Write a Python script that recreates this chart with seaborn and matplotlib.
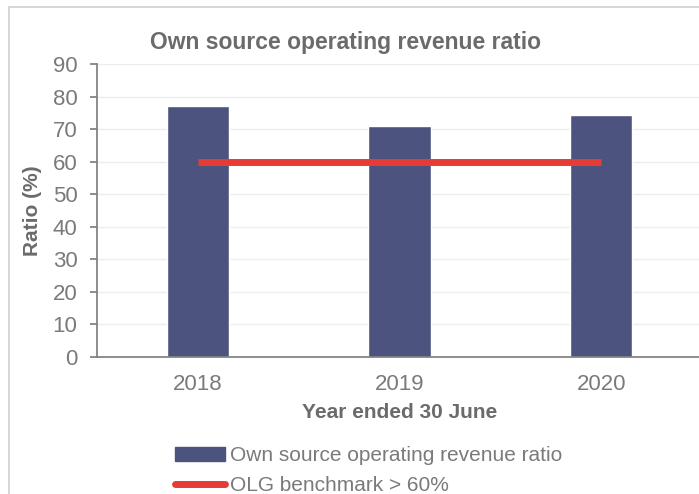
import matplotlib
matplotlib.use("Agg")
import matplotlib.pyplot as plt
import seaborn as sns
import pandas as pd
from matplotlib.patches import Rectangle
from matplotlib.lines import Line2D

years = ["2018", "2019", "2020"]
ratio = [77.0, 71.0, 74.2]
benchmark = [60, 60, 60]

barColor = "#4d537f"
lineColor = "#e53d35"
textColor = "#7a7a7a"
labelColor = "#6b6b6b"

sns.set_theme(style="white")
plt.rcParams["font.family"] = ["Liberation Sans", "DejaVu Sans"]

df = pd.DataFrame({"year": years, "ratio": ratio})

fig = plt.figure(figsize=(6.99, 4.94), dpi=100)
ax = fig.add_axes([97 / 699, 1 - 357 / 494, 605 / 699, 293 / 494])

sns.barplot(data=df, x="year", y="ratio", color=barColor, width=0.31,
            saturation=1, ax=ax, zorder=2)
ax.plot(range(len(years)), benchmark, color=lineColor, lw=5, zorder=3,
        solid_capstyle="butt")

ax.set_xlim(-0.5, 2.5)
ax.set_ylim(0, 90)
ax.set_yticks(range(0, 91, 10))
ax.yaxis.grid(True, color="#ededed", lw=1, zorder=0)
ax.set_axisbelow(True)
for s in ["top", "right"]:
    ax.spines[s].set_visible(False)
for s in ["left", "bottom"]:
    ax.spines[s].set_color("#808080")
ax.set_xticks([-0.5, 0.5, 1.5, 2.5], minor=True)
ax.tick_params(axis="x", which="major", length=0, labelsize=16,
               labelcolor=textColor, pad=12)
ax.tick_params(axis="x", which="minor", length=5, color="#808080")
ax.tick_params(axis="y", length=5, color="#808080", labelsize=16,
               labelcolor=textColor, left=True, pad=9)

ax.set_xlabel("Year ended 30 June", fontsize=15, fontweight="bold",
              color=labelColor, labelpad=6)
ax.set_ylabel("Ratio (%)", fontsize=15, fontweight="bold", color=labelColor,
              labelpad=8)
fig.text(345 / 699, 1 - 42 / 494, "Own source operating revenue ratio",
         ha="center", va="center", fontsize=16.5, fontweight="bold",
         color=labelColor)

handles = [Rectangle((0, 0), 1, 1, color=barColor),
           Line2D([0], [0], color=lineColor, lw=5)]
labels = ["Own source operating revenue ratio", "OLG benchmark > 60%"]
fig.legend(handles, labels, loc="upper left",
           bbox_to_anchor=(165 / 699, 1 - 436 / 494), frameon=False,
           fontsize=15, labelcolor=textColor, handlelength=2.4,
           handletextpad=0.2, labelspacing=0.5, borderpad=0)

fig.patches.append(Rectangle((9 / 699, -0.1), 1.1, 1 - 7 / 494 + 0.1,
                             transform=fig.transFigure, fill=False,
                             edgecolor="#d0d0d0", lw=1.2))

fig.savefig("out.png", dpi=100)
